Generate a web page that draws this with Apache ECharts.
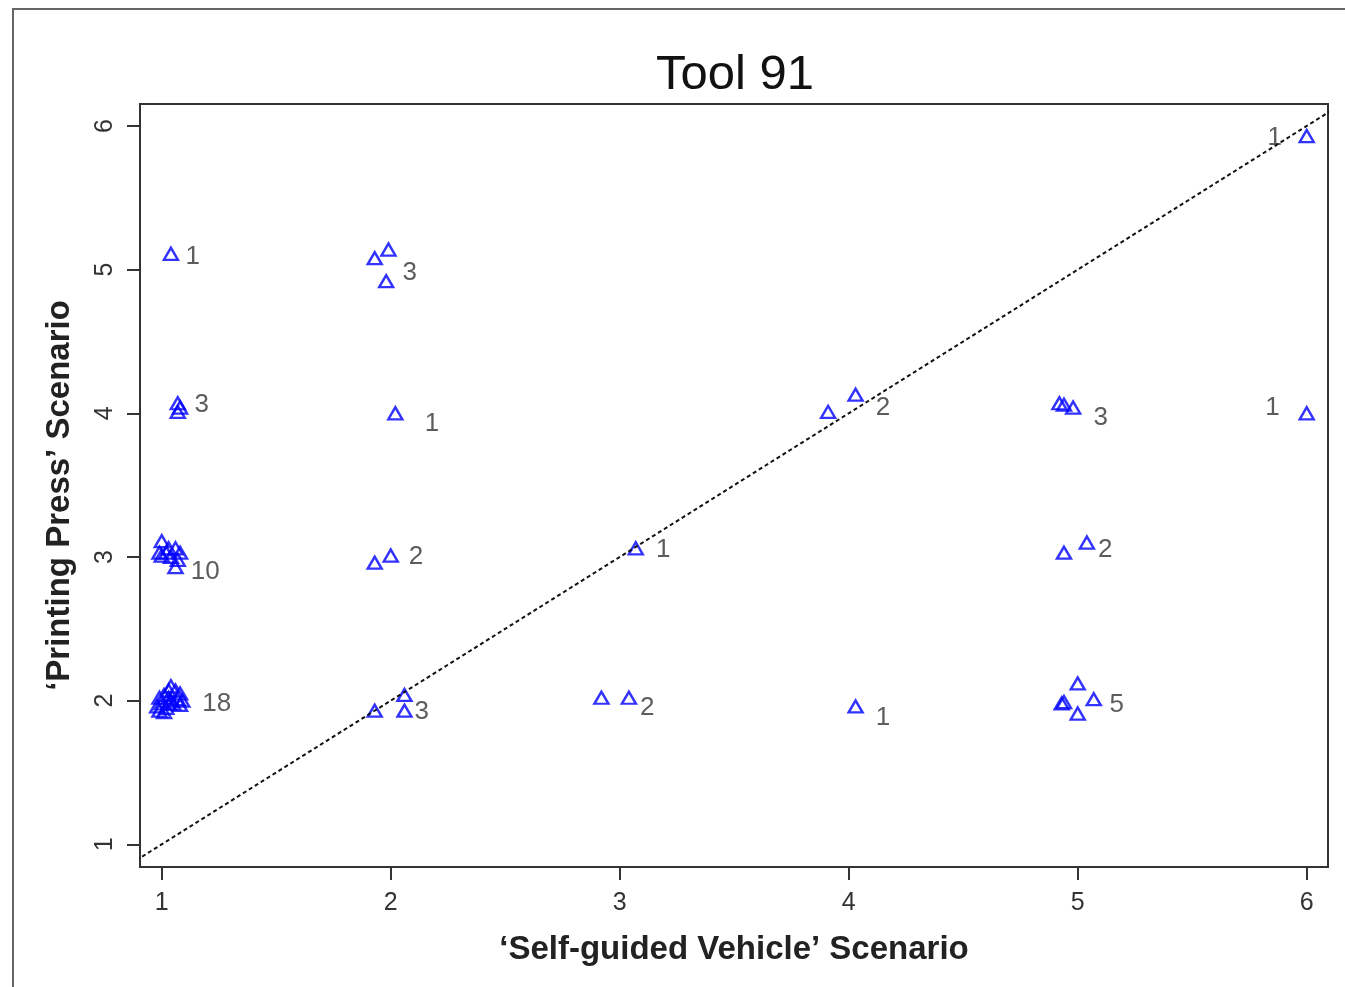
<!DOCTYPE html>
<html>
<head>
<meta charset="utf-8">
<script src="https://cdn.jsdelivr.net/npm/echarts@6/dist/echarts.min.js"></script>
<style>
  html, body { margin: 0; padding: 0; background: #fff; }
  #chart { width: 1345px; height: 987px; }
</style>
</head>
<body>
<div id="chart"></div>
<script>
// Jittered responses: 'Self-guided Vehicle' score vs 'Printing Press' score
const vehicleScore = [
  6.00,
  1.04,
  1.93, 1.99, 1.98,
  1.07, 1.08, 1.07,
  2.02,
  3.91, 4.03,
  4.92, 4.94, 4.98,
  6.00,
  1.00, 0.99, 1.03, 1.06, 1.08, 1.04, 1.00, 1.07, 1.06, 1.02,
  1.93, 2.00,
  3.07,
  4.94, 5.04,
  1.04, 1.03, 1.06, 1.08, 1.01, 0.99, 1.03, 1.07, 1.09, 1.00, 1.03, 1.05, 0.98, 1.02, 0.99, 1.01, 1.04, 1.08,
  1.93, 2.06, 2.06,
  2.92, 3.04,
  4.03,
  4.93, 4.94, 5.00, 5.07, 5.00
];
const pressScore = [
  5.93,
  5.11,
  5.08, 5.14, 4.92,
  4.07, 4.04, 4.01,
  4.00,
  4.01, 4.13,
  4.07, 4.06, 4.04,
  4.00,
  3.11, 3.03, 3.06, 3.06, 3.03, 3.00, 3.01, 2.98, 2.93, 3.03,
  2.96, 3.01,
  3.06,
  3.03, 3.10,
  2.10, 2.07, 2.07, 2.05, 2.04, 2.02, 2.02, 2.01, 2.00, 1.98, 1.98, 1.98, 1.96, 1.95, 1.93, 1.92, 2.00, 1.97,
  1.93, 2.04, 1.93,
  2.02, 2.02,
  1.96,
  1.98, 1.99, 2.12, 2.01, 1.91
];

// Number of respondents at each score pair, placed beside its cluster
const countText = ['1', '1', '3', '3', '1', '2', '3', '1', '10', '2', '1', '2', '18', '3', '2', '1', '5'];
const countX = [5.86, 1.135, 2.083, 1.175, 2.18, 4.15, 5.10, 5.85, 1.19, 2.11, 3.19, 5.12, 1.24, 2.135, 3.12, 4.15, 5.17];
const countY = [5.92, 5.09, 4.98, 4.06, 3.93, 4.04, 3.97, 4.04, 2.90, 3.00, 3.05, 3.05, 1.98, 1.92, 1.95, 1.88, 1.97];

const tickValues = [1, 2, 3, 4, 5, 6];
const diagonal = [[0.5, 0.5], [6.5, 6.5]];

const FONT = "'Liberation Sans', Arial, sans-serif";

const chart = echarts.init(document.getElementById('chart'), null, { renderer: 'canvas' });

const points = vehicleScore.map((v, i) => [v, pressScore[i]]);
const counts = countText.map((t, i) => [countX[i], countY[i], t]);

chart.setOption({
  animation: false,
  backgroundColor: '#fff',
  title: {
    text: 'Tool 91',
    left: 730,
    top: 46,
    textAlign: 'center',
    textStyle: { fontFamily: FONT, fontSize: 49, fontWeight: 'normal', color: '#111' }
  },
  graphic: [{
    type: 'rect',
    shape: { x: 13, y: 9, width: 1400, height: 1000 },
    style: { fill: 'none', stroke: '#666', lineWidth: 2 },
    silent: true
  }],
  grid: {
    left: 140, top: 104, width: 1188, height: 763,
    show: true, borderColor: '#333', borderWidth: 2, backgroundColor: 'transparent'
  },
  xAxis: {
    type: 'value', min: 0.905, max: 6.093,
    splitLine: { show: false },
    axisLine: { show: false },
    axisTick: { show: true, inside: false, length: 13, customValues: tickValues, lineStyle: { color: '#333', width: 2 } },
    axisLabel: { customValues: tickValues, margin: 24, fontFamily: FONT, fontSize: 25, color: '#333' },
    name: '\u2018Self-guided Vehicle\u2019 Scenario',
    nameLocation: 'middle',
    nameGap: 66,
    nameTextStyle: { fontFamily: FONT, fontSize: 33, fontWeight: 'bold', color: '#222' }
  },
  yAxis: {
    type: 'value', min: 0.842, max: 6.153,
    splitLine: { show: false },
    axisLine: { show: false },
    axisTick: { show: true, inside: false, length: 13, customValues: tickValues, lineStyle: { color: '#333', width: 2 } },
    axisLabel: { customValues: tickValues, margin: 22, rotate: 90, fontFamily: FONT, fontSize: 25, color: '#333' },
    name: '\u2018Printing Press\u2019 Scenario',
    nameLocation: 'middle',
    nameGap: 64,
    nameTextStyle: { fontFamily: FONT, fontSize: 33, fontWeight: 'bold', color: '#222', padding: [0, 20, 0, 0] }
  },
  series: [
    {
      type: 'line',
      data: diagonal,
      symbol: 'none',
      clip: true,
      silent: true,
      lineStyle: { color: '#111', width: 2, type: [4, 3] }
    },
    {
      type: 'scatter',
      data: points,
      symbol: 'triangle',
      symbolSize: [14, 12],
      itemStyle: { color: 'rgba(0,0,0,0)', borderColor: '#0000ff', borderWidth: 2.4 }
    },
    {
      type: 'scatter',
      data: counts,
      symbolSize: 0,
      silent: true,
      label: {
        show: true,
        position: 'inside',
        formatter: p => p.data[2],
        fontFamily: FONT,
        fontSize: 26,
        color: '#333'
      }
    }
  ]
});
</script>
</body>
</html>
